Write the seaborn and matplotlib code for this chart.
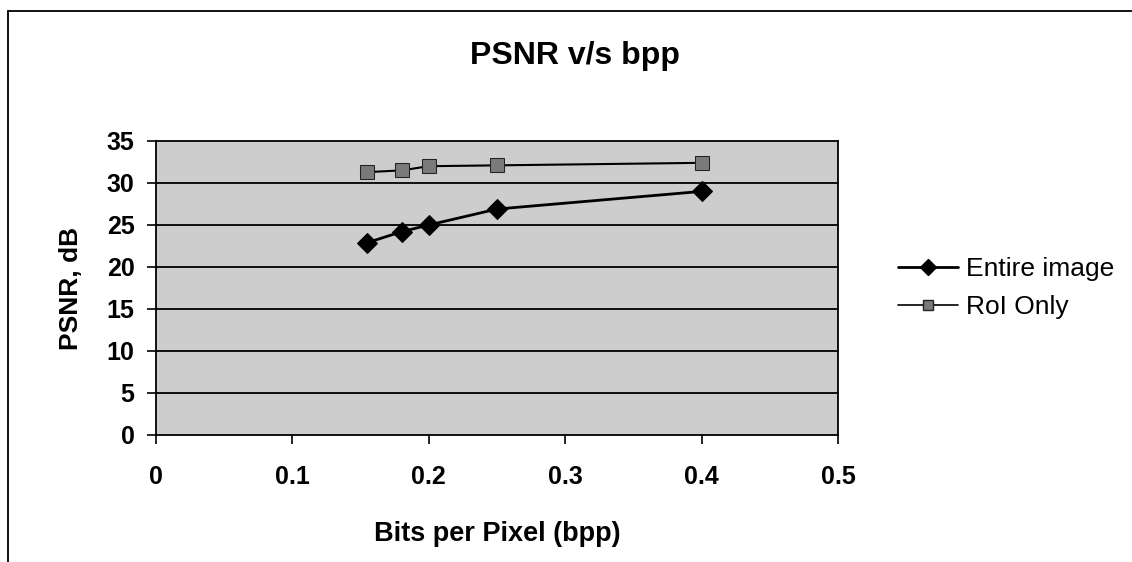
import matplotlib
matplotlib.use("Agg")
import matplotlib.pyplot as plt
import seaborn as sns
import pandas as pd
from matplotlib.lines import Line2D

bpp = [0.155, 0.18, 0.2, 0.25, 0.4]
entire_image = [22.9, 24.2, 25.0, 26.9, 29.0]
roi_only = [31.3, 31.5, 32.0, 32.1, 32.4]
series_names = ["Entire image", "RoI Only"]
x_ticks = [0, 0.1, 0.2, 0.3, 0.4, 0.5]
y_ticks = [0, 5, 10, 15, 20, 25, 30, 35]

df = pd.DataFrame({
    "bpp": bpp * 2,
    "psnr": entire_image + roi_only,
    "series": [series_names[0]] * len(bpp) + [series_names[1]] * len(bpp),
})

sns.set_theme(style="ticks")
plt.rcParams['font.family'] = ['Liberation Sans', 'DejaVu Sans']
plt.rcParams.update({'text.color': 'black', 'axes.labelcolor': 'black',
                     'xtick.color': 'black', 'ytick.color': 'black'})

fig = plt.figure(figsize=(11.32, 5.62), dpi=100)
ax = fig.add_axes([156/1132, 1-435/562, (838-156)/1132, (435-141)/562])
ax.set_facecolor('#cdcdcd')

for y in y_ticks[1:-1]:
    ax.axhline(y, color='black', lw=1.3, zorder=1)

sns.lineplot(data=df, x="bpp", y="psnr", hue="series", style="series",
             palette={series_names[0]: 'black', series_names[1]: 'black'},
             markers={series_names[0]: 'D', series_names[1]: 's'},
             dashes=False, ax=ax, zorder=3, legend=False,
             markersize=10, markeredgecolor='black')
lines = ax.get_lines()
data_lines = [l for l in lines if len(l.get_xdata()) == len(bpp)]
data_lines[0].set_linewidth(2.0)
data_lines[0].set_markersize(10)
data_lines[1].set_linewidth(1.5)
data_lines[1].set_markerfacecolor('#7a7a7a')
data_lines[1].set_markeredgecolor('#222222')
data_lines[1].set_markersize(10)

ax.set_xlim(0, 0.5)
ax.set_ylim(0, 35)
ax.set_xticks(x_ticks)
ax.set_xticklabels([f"{t:g}" for t in x_ticks])
ax.set_yticks(y_ticks)
ax.tick_params(axis='both', which='both', direction='out', length=6.5, width=1.2,
               color='black', labelcolor='black', labelsize=18,
               bottom=True, left=True)
ax.tick_params(axis='x', pad=15)
ax.tick_params(axis='y', pad=9)
for lbl in ax.get_xticklabels() + ax.get_yticklabels():
    lbl.set_fontweight('bold')
for sp in ax.spines.values():
    sp.set_color('black')
    sp.set_linewidth(1.3)
    sp.set_visible(True)

ax.set_xlabel("Bits per Pixel (bpp)", fontsize=19.5, fontweight='bold', labelpad=23)
ax.set_ylabel("PSNR, dB", fontsize=19, fontweight='bold', labelpad=17)
fig.text(575/1132, 1-56/562, "PSNR v/s bpp", fontsize=23, fontweight='bold',
         ha='center', va='center')

handles = [
    Line2D([], [], color='black', lw=2.0, marker='D', markersize=8,
           markerfacecolor='black', markeredgecolor='black'),
    Line2D([], [], color='black', lw=1.2, marker='s', markersize=7,
           markerfacecolor='#7a7a7a', markeredgecolor='#222222'),
]
leg = fig.legend(handles, series_names, loc='center left',
                 bbox_to_anchor=(874/1132, 1-288/562), frameon=False,
                 fontsize=19, handlelength=2.3, handletextpad=0.3,
                 labelspacing=0.55)

fig.add_artist(Line2D([8/1132, 8/1132], [0, 1-11/562], color='black', lw=1.3,
                      transform=fig.transFigure))
fig.add_artist(Line2D([8/1132, 1], [1-11/562, 1-11/562], color='black', lw=1.3,
                      transform=fig.transFigure))

fig.savefig("out.png", dpi=100)
